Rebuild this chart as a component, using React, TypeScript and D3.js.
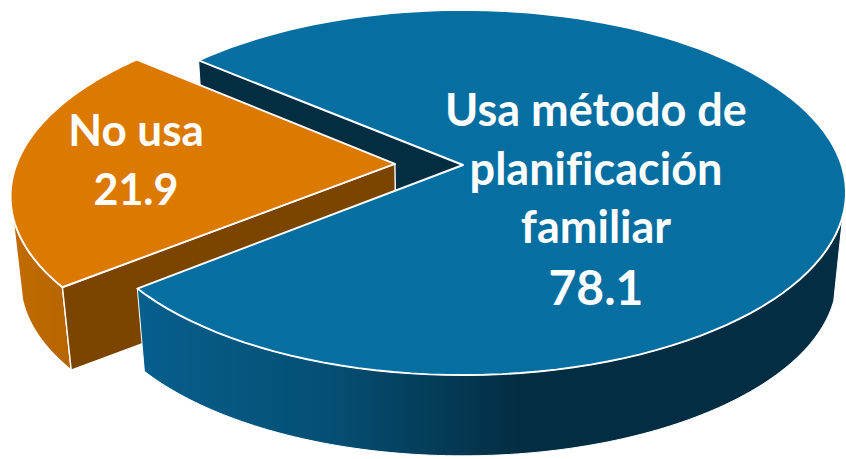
import React from "react";
import * as d3 from "d3";

const categories = ["Usa método de planificación familiar", "No usa"];
const values = [78.1, 21.9];
const blueLines = ["Usa método de", "planificación", "familiar", "78.1"];
const orangeLines = ["No usa", "21.9"];

const W = 846, H = 459;
const deg = Math.PI / 180;
const cx = 463, cy = 165, a = 378.6, b = 178.4, k = 0.1507;
const vanish: [number, number] = [448, 3950];
const depth = 0.0226;
const explode = 0.18;

type P = [number, number];
const project = (u: number, v: number): P => {
  const w = 1 - k * v;
  return [cx + (a * u) / w, cy + (b * v) / w];
};
const lower = (p: P): P => [p[0] + depth * (vanish[0] - p[0]), p[1] + depth * (vanish[1] - p[1])];
const line = d3.line<P>().x((d) => d[0]).y((d) => d[1]);
const closed = (pts: P[]) => line(pts) + "Z";

const slices = d3.pie<number>().sort(null).startAngle(-50 * deg).endAngle(310 * deg)(values);
const [blue, orange] = slices;
const orangeOffset = -explode;
const orangeLift = -0.006;

const rim = (t0: number, t1: number, du = 0, dv = 0): P[] =>
  d3.range(0, 121).map((i) => {
    const t = t0 + ((t1 - t0) * i) / 120;
    return project(du + Math.sin(t), dv - Math.cos(t));
  });

const blueApex = project(0, 0);
const orangeApex = project(orangeOffset, orangeLift);

const blueTop = [blueApex, ...rim(blue.startAngle, blue.endAngle)];
const orangeTop = [orangeApex, ...rim(orange.startAngle, orange.endAngle, orangeOffset, orangeLift)];

const blueFront = rim(106 * deg, blue.endAngle);
const blueWall = [...blueFront, ...blueFront.map(lower).reverse()];
const blueBackEdge = [project(Math.sin(blue.startAngle), -Math.cos(blue.startAngle)), blueApex];
const blueBackWall = [...blueBackEdge, ...blueBackEdge.map(lower).reverse()];

const orangeFront = rim(orange.startAngle, 254 * deg, orangeOffset, orangeLift);
const orangeWall = [...orangeFront, ...orangeFront.map(lower).reverse()];
const orangeCutEdge = [orangeApex, orangeTop[1]];
const orangeCutWall = [...orangeCutEdge, ...orangeCutEdge.map(lower).reverse()];

const font = "Lato, Carlito, Calibri, sans-serif";

export default function App() {
  return (
    <svg width={W} height={H} viewBox={`0 0 ${W} ${H}`} style={{ position: "absolute", left: 0, top: 0, display: "block" }}>
      <title>{categories.join(" / ")}</title>
      <defs>
        <linearGradient id="blueWall" gradientUnits="userSpaceOnUse" x1={138} x2={520} y1={0} y2={0}>
          <stop offset="0" stopColor="#065f8d" />
          <stop offset="0.5" stopColor="#054f74" />
          <stop offset="1" stopColor="#032d42" />
        </linearGradient>
        <linearGradient id="orangeWall" gradientUnits="userSpaceOnUse" x1={10} x2={70} y1={0} y2={0}>
          <stop offset="0" stopColor="#c16c00" />
          <stop offset="1" stopColor="#b56500" />
        </linearGradient>
      </defs>
      <g stroke="#fff" strokeLinejoin="round">
        <path d={closed(blueBackWall)} fill="#032d41" strokeWidth={1} />
        <path d={closed(orangeWall)} fill="url(#orangeWall)" strokeWidth={1.4} />
        <path d={closed(orangeCutWall)} fill="#7b4500" strokeWidth={1.4} />
        <path d={closed(orangeTop)} fill="#db7900" strokeWidth={1.9} />
        <path d={closed(blueWall)} fill="url(#blueWall)" strokeWidth={1} />
        <path d={closed(blueTop)} fill="#066fa1" strokeWidth={1.9} />
      </g>
      <g fontFamily={font} fontWeight={700} fill="#fff" textAnchor="middle" style={{ fontVariantLigatures: "none" }}>
        {blueLines.map((t, i) => (
          <text key={t} x={596} y={[126, 185, 243, 305][i]} fontSize={i === 3 ? 48 : 45}>{t}</text>
        ))}
        {orangeLines.map((t, i) => (
          <text key={t} x={136} y={[146, 205][i]} fontSize={i === 1 ? 43 : 44}>{t}</text>
        ))}
      </g>
    </svg>
  );
}
